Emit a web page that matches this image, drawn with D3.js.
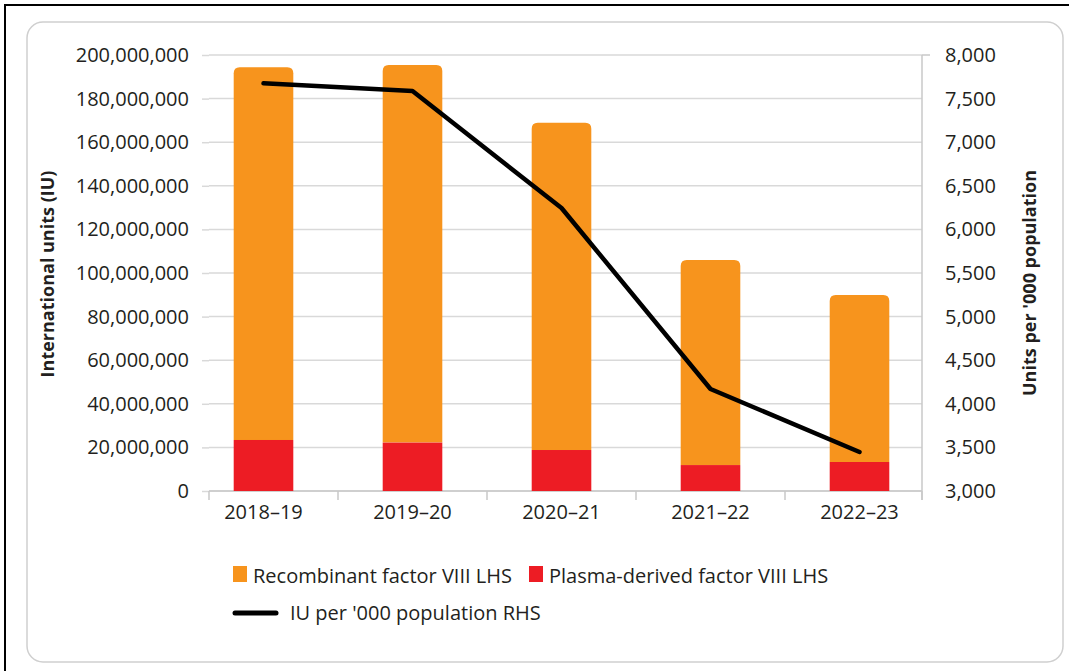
<!DOCTYPE html>
<html>
<head>
<meta charset="utf-8">
<script src="https://cdn.jsdelivr.net/npm/d3@7"></script>
<style>
  html, body { margin: 0; padding: 0; background: #fff; }
  svg { display: block; }
  text { font-family: "Open Sans", "Noto Sans", sans-serif; fill: #231f20; }
</style>
</head>
<body>
<svg id="chart" width="1069" height="671"></svg>
<script>
// Factor VIII issued, by financial year
const years = ["2018–19", "2019–20", "2020–21", "2021–22", "2022–23"];
const recombinant = [171000000, 173200000, 150100000, 94100000, 76600000];
const plasmaDerived = [23400000, 22200000, 18800000, 11900000, 13300000];
const iuPerThousand = [7675, 7587, 6245, 4170, 3447];

const leftTicks = [0, 20000000, 40000000, 60000000, 80000000, 100000000,
                   120000000, 140000000, 160000000, 180000000, 200000000];
const rightTicks = [3000, 3500, 4000, 4500, 5000, 5500, 6000, 6500, 7000, 7500, 8000];

const legendBars = ["Recombinant factor VIII LHS", "Plasma-derived factor VIII LHS"];
const legendLine = "IU per '000 population RHS";

const ORANGE = "#f7941d", RED = "#ed1c24", GRID = "#d9d9d9", AXIS = "#c8c8c8";

const svg = d3.select("#chart");

// Outer frame and rounded panel
svg.append("path")
  .attr("d", "M5,671 V5 H1069")
  .attr("fill", "none").attr("stroke", "#000").attr("stroke-width", 2);
svg.append("rect")
  .attr("x", 27).attr("y", 22).attr("width", 1036).attr("height", 640)
  .attr("rx", 16).attr("ry", 16)
  .attr("fill", "#fff").attr("stroke", "#cfcfcf").attr("stroke-width", 1.5);

const plotLeft = 209, plotRight = 922, plotTop = 55, plotBottom = 491;

const x = d3.scaleBand().domain(years).range([189, 934]).paddingInner(0.6).paddingOuter(0.3);
const xStep = x.step();
const centre = d => x(d) + x.bandwidth() / 2;

const yL = d3.scaleLinear().domain([0, 200000000]).range([plotBottom, plotTop]);
const yR = d3.scaleLinear().domain([3000, 8000]).range([plotBottom, plotTop]);

const fmt = d3.format(",");

// Gridlines
svg.append("g").selectAll("line").data(leftTicks).join("line")
  .attr("x1", plotLeft).attr("x2", plotRight)
  .attr("y1", d => yL(d)).attr("y2", d => yL(d))
  .attr("stroke", GRID).attr("stroke-width", 1.5);

// Left axis
const gL = svg.append("g").attr("transform", `translate(${plotLeft},0)`)
  .call(d3.axisLeft(yL).tickValues(leftTicks).tickFormat(fmt).tickSize(7).tickPadding(13));
gL.select(".domain").remove();
gL.selectAll(".tick line").attr("stroke", GRID).attr("stroke-width", 1.5);
gL.selectAll(".tick text").attr("font-size", 20).attr("fill", "#231f20")
  .attr("font-family", "'Open Sans', sans-serif");

// Right axis
const gR = svg.append("g").attr("transform", `translate(${plotRight},0)`)
  .call(d3.axisRight(yR).tickValues(rightTicks).tickFormat(fmt).tickSize(0).tickPadding(23));
gR.select(".domain").remove();
gR.selectAll(".tick text").attr("font-size", 20).attr("fill", "#231f20")
  .attr("font-family", "'Open Sans', sans-serif");
svg.append("line")
  .attr("x1", plotRight).attr("x2", plotRight).attr("y1", plotTop).attr("y2", plotBottom + 9)
  .attr("stroke", AXIS).attr("stroke-width", 1.5);
svg.append("line")
  .attr("x1", plotRight).attr("x2", plotRight + 8).attr("y1", plotTop).attr("y2", plotTop)
  .attr("stroke", AXIS).attr("stroke-width", 1.5);

// Category axis: baseline, tick marks between categories, labels
svg.append("line")
  .attr("x1", plotLeft).attr("x2", plotRight).attr("y1", plotBottom).attr("y2", plotBottom)
  .attr("stroke", AXIS).attr("stroke-width", 1.5);
const catTicks = [plotLeft].concat(years.slice(1).map(d => centre(d) - xStep / 2)).concat([plotRight]);
svg.append("g").selectAll("line").data(catTicks).join("line")
  .attr("x1", d => d).attr("x2", d => d)
  .attr("y1", plotBottom).attr("y2", plotBottom + 9)
  .attr("stroke", AXIS).attr("stroke-width", 1.5);
svg.append("g").selectAll("text").data(years).join("text")
  .attr("x", d => centre(d)).attr("y", 519)
  .attr("text-anchor", "middle").attr("font-size", 20)
  .text(d => d);

// Stacked bars: plasma-derived at the base, recombinant on top with rounded top corners
const bw = x.bandwidth();
const r = 6;
function roundTop(x0, yTop, w, yBottom) {
  return `M${x0},${yBottom} V${yTop + r} Q${x0},${yTop} ${x0 + r},${yTop} ` +
         `H${x0 + w - r} Q${x0 + w},${yTop} ${x0 + w},${yTop + r} V${yBottom} Z`;
}
const bars = svg.append("g");
bars.selectAll("path.recomb").data(years).join("path")
  .attr("class", "recomb")
  .attr("d", (d, i) => roundTop(x(d), yL(plasmaDerived[i] + recombinant[i]), bw, yL(plasmaDerived[i])))
  .attr("fill", ORANGE);
bars.selectAll("rect.plasma").data(years).join("rect")
  .attr("class", "plasma")
  .attr("x", d => x(d)).attr("width", bw)
  .attr("y", (d, i) => yL(plasmaDerived[i]))
  .attr("height", (d, i) => yL(0) - yL(plasmaDerived[i]))
  .attr("fill", RED);

// IU per '000 population line (right-hand scale)
const line = d3.line().x((d, i) => centre(years[i])).y(d => yR(d));
svg.append("path").datum(iuPerThousand)
  .attr("d", line)
  .attr("fill", "none").attr("stroke", "#000").attr("stroke-width", 4.5)
  .attr("stroke-linejoin", "round").attr("stroke-linecap", "round");

// Axis titles
svg.append("text")
  .attr("transform", "translate(54,274) rotate(-90)")
  .attr("text-anchor", "middle").attr("font-size", 18).attr("font-weight", "bold")
  .text("International units (IU)");
svg.append("text")
  .attr("transform", "translate(1036,283) rotate(-90)")
  .attr("text-anchor", "middle").attr("font-size", 18).attr("font-weight", "bold")
  .text("Units per '000 population");

// Legend
const legend = svg.append("g");
const legendColours = [ORANGE, RED];
const legendX = [233, 529];
legendBars.forEach((label, i) => {
  legend.append("rect")
    .attr("x", legendX[i]).attr("y", 566).attr("width", 14).attr("height", 16)
    .attr("fill", legendColours[i]);
  legend.append("text")
    .attr("x", legendX[i] + 20).attr("y", 583).attr("font-size", 20)
    .text(label);
});
legend.append("line")
  .attr("x1", 235).attr("x2", 276).attr("y1", 613).attr("y2", 613)
  .attr("stroke", "#000").attr("stroke-width", 5).attr("stroke-linecap", "round");
legend.append("text")
  .attr("x", 290).attr("y", 620).attr("font-size", 20)
  .text(legendLine);
</script>
</body>
</html>
